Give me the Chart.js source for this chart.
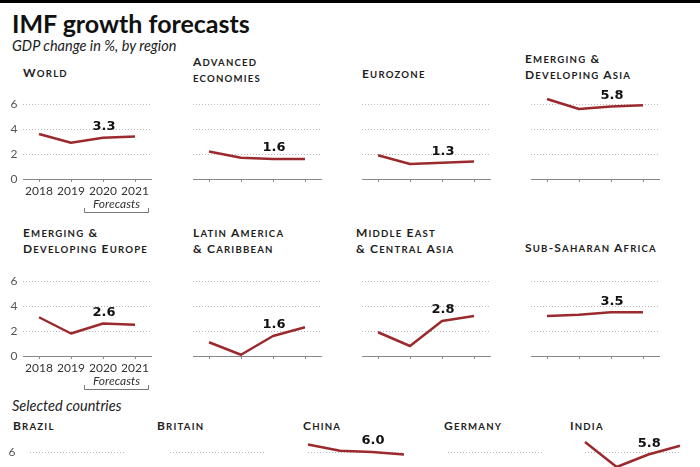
<!DOCTYPE html>
<html><head><meta charset="utf-8">
<script src="https://cdn.jsdelivr.net/npm/chart.js@4.4.0/dist/chart.umd.min.js"></script>
<style>
html,body{margin:0;padding:0;background:#fff;}
body{width:700px;height:467px;overflow:hidden;position:relative;font-family:Lato,sans-serif;}
.bar{position:absolute;left:0;top:0;width:700px;height:3px;background:#000;}
.title{position:absolute;left:12px;top:11px;font:bold 25px/25px Lato;color:#111;white-space:nowrap;}
.sub{position:absolute;left:12px;font:italic 14.5px/14.5px Lato;color:#222;white-space:nowrap;}
.pt{position:absolute;font:bold 12px/15px Lato;color:#1e1e1e;white-space:pre;letter-spacing:1.2px;}
.pt .sc{font-size:0.8em;}
canvas{position:absolute;}
</style></head><body>
<div class="bar"></div>
<div class="title" id="title"></div>
<div class="sub" id="sub1" style="top:39px"></div>
<div class="sub" id="sub2" style="top:399px"></div>
<script>
// ---- data ----
const chartTitle = 'IMF growth forecasts';
const subtitle = 'GDP change in %, by region';
const subtitle2 = 'Selected countries';
const forecastLabel = 'Forecasts';
const years = ['2018', '2019', '2020', '2021'];
const yTickValues = [0, 2, 4, 6];

const world    = [3.6, 2.9, 3.3, 3.4];
const advanced = [2.2, 1.7, 1.6, 1.6];
const eurozone = [1.9, 1.2, 1.3, 1.4];
const emAsia   = [6.4, 5.6, 5.8, 5.9];
const emEurope = [3.1, 1.8, 2.6, 2.5];
const latam    = [1.1, 0.1, 1.6, 2.3];
const meca     = [1.9, 0.8, 2.8, 3.2];
const ssa      = [3.2, 3.3, 3.5, 3.5];
const brazil   = [1.3, 1.1, 2.2, 2.3];
const britain  = [1.4, 1.3, 1.4, 1.5];
const china    = [6.6, 6.1, 6.0, 5.8];
const germany  = [1.5, 0.5, 1.1, 1.4];
const india    = [6.8, 4.8, 5.8, 6.5];

const regionNames = ['World', 'Advanced\neconomies', 'Eurozone', 'Emerging &\nDeveloping Asia',
  'Emerging &\nDeveloping Europe', 'Latin America\n& Caribbean', 'Middle East\n& Central Asia', 'Sub-Saharan Africa'];
const countryNames = ['Brazil', 'Britain', 'China', 'Germany', 'India'];

// ---- layout ----
const LINE = '#9b2a2e';
const panels = [
  {data: world,    name: regionNames[0], tx: 23,  ty: 65,  plotLeft: 23,  plotTop: 104, plotW: 128, first: true, showX: true, offset: true, yPad: 5.5},
  {data: advanced, name: regionNames[1], tx: 193, ty: 53.5, plotLeft: 193, plotTop: 104, plotW: 128, offset: true},
  {data: eurozone, name: regionNames[2], tx: 362, ty: 65.5, plotLeft: 362, plotTop: 104, plotW: 128, offset: true},
  {data: emAsia,   name: regionNames[3], tx: 525, ty: 50.5, plotLeft: 531, plotTop: 104, plotW: 128, offset: true},
  {data: emEurope, name: regionNames[4], tx: 23,  ty: 224.5, plotLeft: 23,  plotTop: 281, plotW: 128, first: true, showX: true, offset: true, yPad: 5.5},
  {data: latam,    name: regionNames[5], tx: 193, ty: 224.5, plotLeft: 193, plotTop: 281, plotW: 128, offset: true},
  {data: meca,     name: regionNames[6], tx: 356, ty: 224.5, plotLeft: 362, plotTop: 281, plotW: 128, offset: true},
  {data: ssa,      name: regionNames[7], tx: 525, ty: 239.5, plotLeft: 531, plotTop: 281, plotW: 128, offset: true},
  {data: brazil,   name: countryNames[0], tx: 13,  ty: 418, plotLeft: 30,  plotTop: 452, plotW: 94, first: true, offset: false, yPad: 14.5},
  {data: britain,  name: countryNames[1], tx: 157, ty: 418, plotLeft: 170, plotTop: 452, plotW: 94, offset: false},
  {data: china,    name: countryNames[2], tx: 303, ty: 418, plotLeft: 308, plotTop: 452, plotW: 96, offset: false},
  {data: germany,  name: countryNames[3], tx: 444, ty: 418, plotLeft: 448, plotTop: 452, plotW: 94, offset: false},
  {data: india,    name: countryNames[4], tx: 570, ty: 418, plotLeft: 585, plotTop: 452, plotW: 95, offset: false}
];

document.getElementById('title').textContent = chartTitle;
document.getElementById('sub1').textContent = subtitle;
document.getElementById('sub2').textContent = subtitle2;

// render a name in small caps: capitals full size, lower-case letters as smaller capitals
function smallCaps(el, text) {
  let buf = '', lower = null;
  const flush = () => {
    if (!buf) return;
    if (lower) {
      const s = document.createElement('span');
      s.className = 'sc';
      s.textContent = buf.toUpperCase();
      el.appendChild(s);
    } else {
      el.appendChild(document.createTextNode(buf));
    }
    buf = '';
  };
  for (const ch of text) {
    const isLower = ch !== ch.toUpperCase();
    if (lower !== null && isLower !== lower) flush();
    lower = isLower;
    buf += ch;
  }
  flush();
}

const valueLabel = {
  id: 'valueLabel',
  afterDatasetsDraw(chart) {
    const meta = chart.getDatasetMeta(0);
    const i = 2;
    const pt = meta.data[i];
    const v = chart.data.datasets[0].data[i];
    const ctx = chart.ctx;
    ctx.save();
    ctx.font = 'bold 13px "DejaVu Sans"';
    ctx.fillStyle = '#111';
    ctx.textAlign = 'center';
    ctx.textBaseline = 'middle';
    ctx.fillText(v.toFixed(1), pt.x + 1, pt.y - 11);
    ctx.restore();
  }
};

const forecastMark = {
  id: 'forecastMark',
  afterDraw(chart, args, opts) {
    if (!opts.show) return;
    const xs = chart.scales.x;
    const x1 = xs.getPixelForValue(2), x2 = xs.getPixelForValue(3);
    const step = x2 - x1;
    const left = Math.round(x1 - 0.59 * step) + 0.5, right = Math.round(x2 + 0.4 * step) + 0.5;
    const base = chart.chartArea.bottom;
    const ctx = chart.ctx;
    ctx.save();
    ctx.font = 'italic 12px Lato';
    ctx.fillStyle = '#333';
    ctx.textAlign = 'center';
    ctx.textBaseline = 'alphabetic';
    ctx.fillText(forecastLabel, (left + right) / 2, base + 29);
    ctx.strokeStyle = '#777';
    ctx.lineWidth = 1;
    ctx.beginPath();
    ctx.moveTo(left, base + 29);
    ctx.lineTo(left, Math.round(base + 33) + 0.5);
    ctx.lineTo(right, Math.round(base + 33) + 0.5);
    ctx.lineTo(right, base + 29);
    ctx.stroke();
    ctx.restore();
  }
};

Chart.defaults.font.family = 'Lato';

panels.forEach(p => {
  const t = document.createElement('div');
  t.className = 'pt';
  t.style.left = p.tx + 'px';
  t.style.top = p.ty + 'px';
  smallCaps(t, p.name);
  document.body.appendChild(t);

  const padTop = 24, padRight = 8;
  const axisW = p.first ? p.plotLeft : 0;
  const padLeft = p.first ? 0 : 6;
  const plotH = 75;
  const xH = p.showX ? 44 : 8;
  const cw = padLeft + axisW + p.plotW + padRight;
  const ch = padTop + plotH + xH;
  const c = document.createElement('canvas');
  c.width = cw; c.height = ch;
  c.style.left = (p.plotLeft - axisW - padLeft) + 'px';
  c.style.top = (p.plotTop - padTop) + 'px';
  c.style.width = cw + 'px'; c.style.height = ch + 'px';
  document.body.appendChild(c);

  new Chart(c, {
    type: 'line',
    data: {labels: years, datasets: [{data: p.data, borderColor: LINE, borderWidth: 2.5, pointRadius: 0,
      tension: 0, clip: false, borderCapStyle: 'butt', borderJoinStyle: 'round', fill: false}]},
    options: {
      responsive: false, animation: false, devicePixelRatio: 1,
      layout: {padding: {top: padTop, left: padLeft, right: padRight, bottom: 0}},
      plugins: {legend: {display: false}, tooltip: {enabled: false}, forecastMark: {show: !!p.showX}},
      scales: {
        x: {
          type: 'category', offset: p.offset,
          grid: {display: true, drawOnChartArea: false, drawTicks: true, tickLength: 3, color: '#888', offset: false},
          border: {display: true, color: '#888', width: 1},
          ticks: {display: !!p.showX, color: '#333', font: {size: 12}, padding: 2, maxRotation: 0, autoSkip: false},
          afterFit: s => { s.height = xH; }
        },
        y: {
          min: 0, max: 6,
          afterBuildTicks: s => { s.ticks = yTickValues.map(v => ({value: v})); },
          grid: {color: ctx => (ctx.tick && ctx.tick.value === 0) ? 'rgba(0,0,0,0)' : '#b8b8b8', drawTicks: false, lineWidth: 1},
          border: {display: false, dash: [1, 2]},
          ticks: {display: !!p.first, color: '#555', font: {size: 12}, padding: p.yPad || 0},
          afterFit: s => { s.width = axisW; }
        }
      }
    },
    plugins: [valueLabel, forecastMark]
  });
});
</script>
</body></html>
